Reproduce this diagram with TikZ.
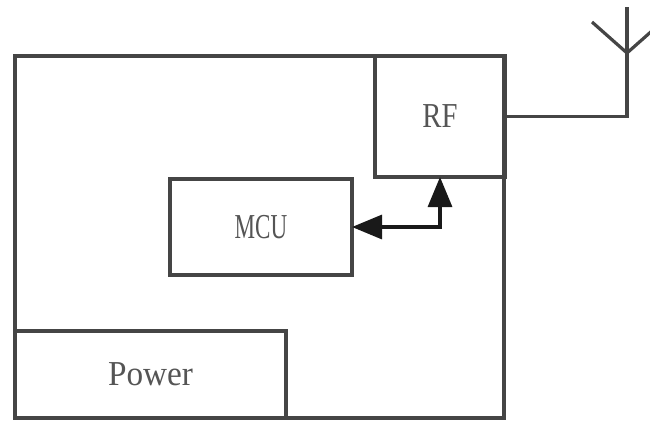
\documentclass[tikz,border=0pt]{standalone}
\usepackage{fontspec}
\setmainfont{Liberation Serif}
\usetikzlibrary{arrows.meta}
\definecolor{ln}{HTML}{454545}
\definecolor{tx}{HTML}{555555}
\tikzset{
  blk/.style={draw=ln, line width=3.2pt, minimum width=#1, inner sep=0pt, outer sep=0pt},
  lbl/.style={text=tx, font=\fontsize{35}{35}\selectfont},
  conn/.style={draw=black!90, line width=3.2pt, {Triangle[length=30pt,width=24pt]}-{Triangle[length=30pt,width=24pt]}},
  wire/.style={draw=ln, line width=3.2pt}
}
\newcommand{\squeeze}[2]{\scalebox{#1}[1]{#2}}
\begin{document}
\begin{tikzpicture}[x=1pt,y=-1pt]
\useasboundingbox (0,0) rectangle (650,421);
\clip (0,0) rectangle (650,421);
\fill[white] (0,0) rectangle (650,421);
\node[blk=489pt, minimum height=362pt] (board) at (259.5,237) {};
\node[blk=130pt, minimum height=121pt, lbl] (rf) at (440,116.5) {\squeeze{0.82}{RF}};
\node[blk=182pt, minimum height=96pt, lbl] (mcu) at (261,227) {\squeeze{0.66}{MCU}};
\node[blk=271pt, minimum height=87pt, lbl] (power) at (150.5,374.5) {\squeeze{0.95}{Power}};
\draw[conn] (mcu.east) -| (rf.south);
\coordinate (top) at (627,7);
\coordinate (apex) at (627,53);
\coordinate (armL) at (592,22);
\coordinate (armR) at (662,22);
\draw[wire] (rf.east) -| (top);
\draw[wire] (armL) -- (apex) -- (armR);
\end{tikzpicture}
\end{document}
